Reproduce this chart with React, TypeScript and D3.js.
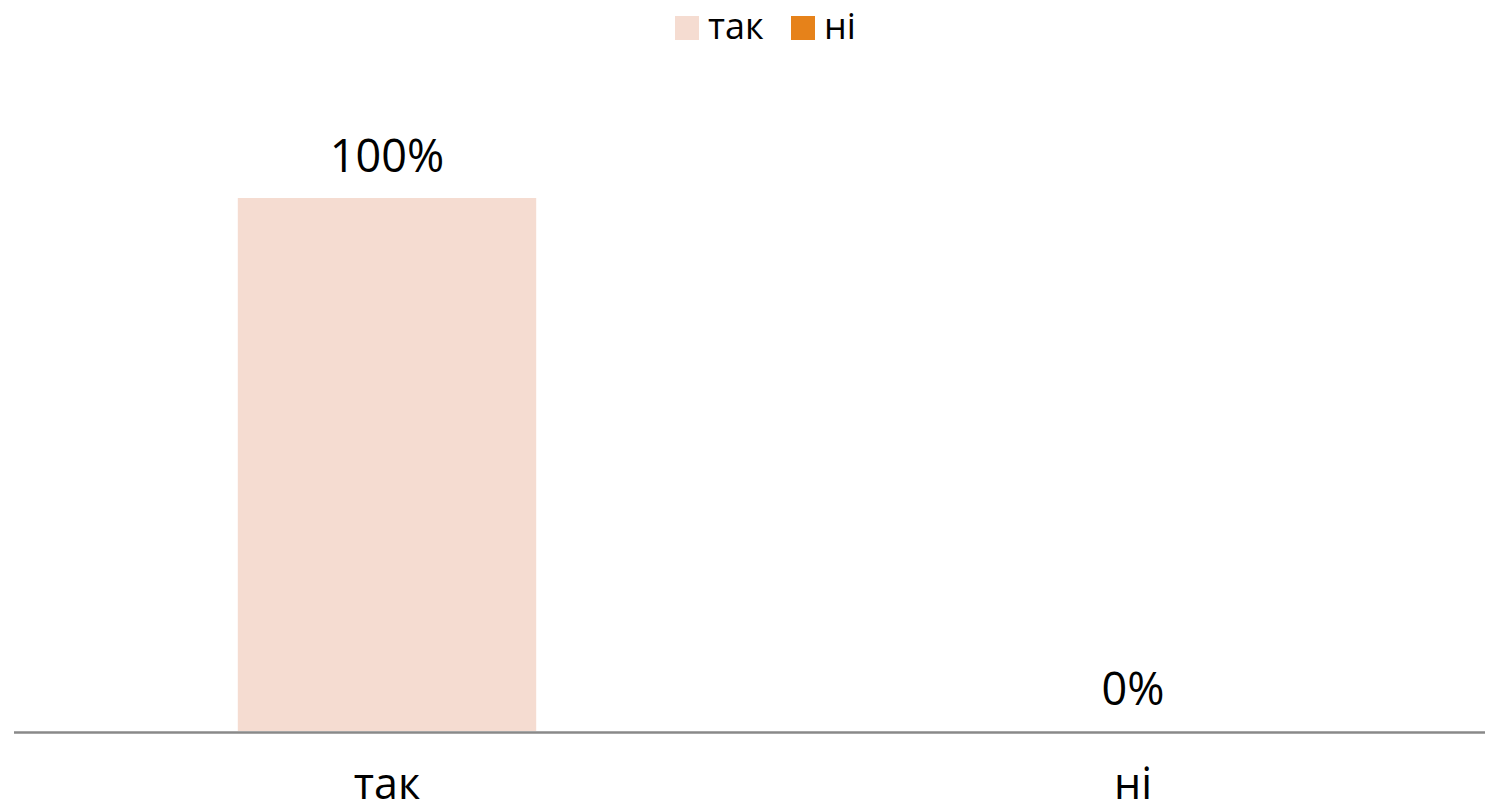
import React, { useEffect, useRef } from 'react';
import * as d3 from 'd3';

const categories = ['так', 'ні'];
const values = [1, 0];
const seriesColors = ['#F5DCD1', '#E6821A'];

const App = () => {
    const ref = useRef<SVGSVGElement>(null);

    useEffect(() => {
        const width = 1485;
        const height = 811;
        const font = '"Open Sans", "Noto Sans", sans-serif';

        const svg = d3.select(ref.current);
        svg.selectAll('*').remove();

        const x = d3.scaleBand()
            .domain(categories)
            .range([14, 1506])
            .paddingInner(0.6)
            .paddingOuter(0.3);

        const y = d3.scaleLinear()
            .domain([0, 1])
            .range([731, 198]);

        // Bars
        svg.selectAll('.bar')
            .data(categories)
            .enter()
            .append('rect')
            .attr('class', 'bar')
            .attr('x', d => x(d)!)
            .attr('width', x.bandwidth())
            .attr('y', (d, i) => y(values[i]))
            .attr('height', (d, i) => y(0) - y(values[i]))
            .attr('fill', (d, i) => seriesColors[i]);

        // Baseline
        svg.append('line')
            .attr('x1', 14)
            .attr('x2', width)
            .attr('y1', y(0) + 1.5)
            .attr('y2', y(0) + 1.5)
            .attr('stroke', '#898989')
            .attr('stroke-width', 2.5);

        // Value labels
        svg.selectAll('.val')
            .data(categories)
            .enter()
            .append('text')
            .attr('x', d => x(d)! + x.bandwidth() / 2)
            .attr('y', (d, i) => y(values[i]) - 26)
            .attr('text-anchor', 'middle')
            .attr('font-family', font)
            .attr('font-size', 45)
            .attr('fill', '#000')
            .text((d, i) => d3.format('.0%')(values[i]));

        // Category labels
        svg.selectAll('.cat')
            .data(categories)
            .enter()
            .append('text')
            .attr('x', d => x(d)! + x.bandwidth() / 2)
            .attr('y', 799)
            .attr('text-anchor', 'middle')
            .attr('font-family', font)
            .attr('font-size', 43)
            .attr('fill', '#000')
            .text(d => d);

        // Legend
        const legendX = [675, 791];
        const lg = svg.selectAll('.legend')
            .data(categories)
            .enter()
            .append('g')
            .attr('transform', (d, i) => `translate(${legendX[i]},16)`);
        lg.append('rect')
            .attr('width', 24)
            .attr('height', 24)
            .attr('fill', (d, i) => seriesColors[i]);
        lg.append('text')
            .attr('x', 33)
            .attr('y', 23)
            .attr('font-family', font)
            .attr('font-size', 36)
            .attr('fill', '#000')
            .text(d => d);

        svg.attr('width', width).attr('height', height);
    }, []);

    return (
        <svg
            ref={ref}
            width={1485}
            height={811}
            style={{ position: 'absolute', top: 0, left: 0, background: '#fff' }}
        />
    );
};

export default App;
